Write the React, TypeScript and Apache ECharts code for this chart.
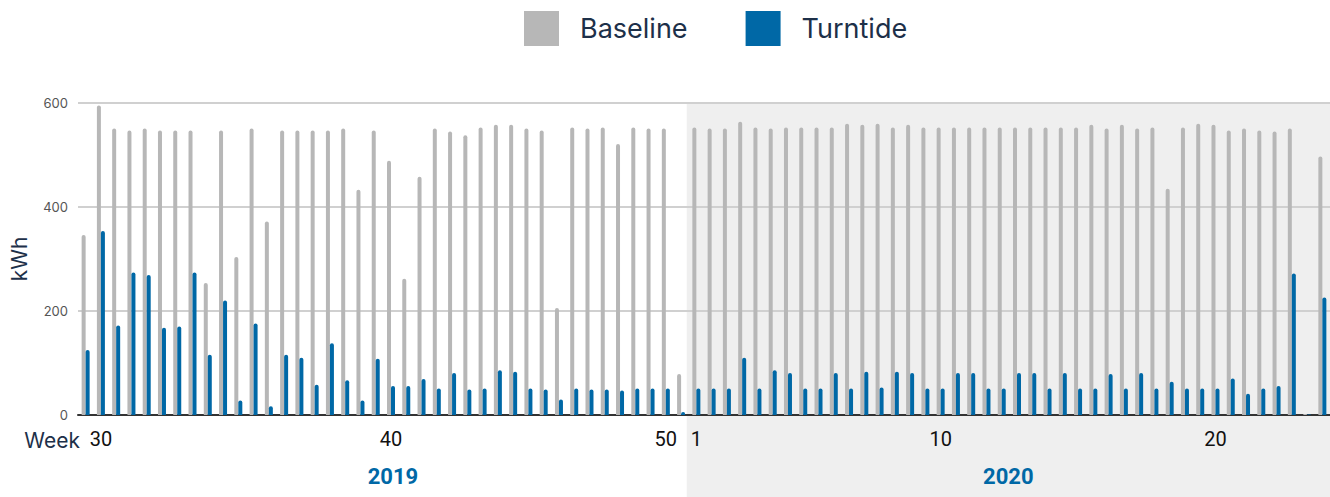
import React, { useEffect, useRef } from "react";
import * as echarts from "echarts";

const baseline = [
  346, 595, 551, 547, 551, 547, 547, 547, 254, 547,
  304, 551, 372, 547, 547, 547, 547, 551, 433, 547,
  489, 262, 458, 551, 545, 538, 553, 558, 558, 551,
  547, 206, 553, 551, 553, 521, 553, 551, 551, 79,
  553, 551, 551, 564, 553, 551, 553, 553, 553, 553,
  560, 558, 560, 553, 558, 553, 553, 553, 553, 553,
  553, 553, 553, 553, 553, 553, 558, 551, 558, 551,
  553, 435, 553, 560, 558, 547, 551, 547, 545, 551,
  2, 497,
];

const turntide = [
  125, 354, 172, 274, 269, 168, 170, 274, 116, 220,
  28, 176, 17, 116, 110, 58, 138, 67, 28, 108,
  56, 56, 69, 51, 81, 49, 51, 86, 83, 51,
  49, 30, 51, 49, 49, 47, 51, 51, 51, 6,
  51, 51, 51, 110, 51, 86, 81, 51, 51, 81,
  51, 83, 53, 83, 81, 51, 51, 81, 81, 51,
  51, 81, 81, 51, 81, 51, 51, 79, 51, 81,
  51, 64, 51, 51, 51, 70, 41, 51, 56, 272,
  1, 226,
];

// Index of each period where a week tick label is shown
const tickIndex = [1, 20, 38, 40, 56, 74];
const tickLabels = ["30", "40", "50", "1", "10", "20"];

const years = ["2019", "2020"];
const firstIndexOf2020 = 40;

const seriesNames = ["Baseline", "Turntide"];

const categories = baseline.map((_, i) => String(i));

const GRAY = "#b7b7b7";
const BLUE = "#0068a6";
const NAVY = "#1d3049";
const FONT = "Inter, Roboto, sans-serif";

export default function App() {
  const ref = useRef<HTMLDivElement>(null);

  useEffect(() => {
    document.body.style.margin = "0";
    if (!ref.current) return;
    const chart = echarts.init(ref.current, null, { renderer: "svg" });
    chart.setOption({
      animation: false,
      backgroundColor: "#ffffff",
      legend: {
        top: 6,
        left: 519,
        itemWidth: 35,
        itemHeight: 35,
        itemGap: 58,
        icon: "rect",
        textStyle: { fontSize: 27, color: NAVY, fontFamily: FONT, padding: [0, 0, 0, 16] },
        data: seriesNames,
      },
      grid: { left: 78, right: 0, top: 103, bottom: 82, containLabel: false },
      xAxis: {
        type: "category",
        data: categories,
        axisLine: { show: true, lineStyle: { color: "#333", width: 2 } },
        axisTick: { show: false },
        axisLabel: {
          interval: (index: number) => tickIndex.includes(index),
          formatter: (_v: string, index: number) => {
            const k = tickIndex.indexOf(index);
            return k >= 0 ? tickLabels[k] : "";
          },
          fontSize: 20,
          color: "#111",
          fontFamily: "Roboto, sans-serif",
          margin: 14,
        },
        splitLine: { show: false },
      },
      yAxis: {
        type: "value",
        min: 0,
        max: 600,
        interval: 200,
        name: "kWh",
        nameLocation: "middle",
        nameGap: 48,
        nameTextStyle: { fontSize: 21, color: NAVY, fontFamily: FONT },
        axisLine: { show: false },
        axisTick: { show: false },
        axisLabel: { fontSize: 13, color: "#555", fontFamily: FONT, margin: 10 },
        splitLine: { lineStyle: { color: "#d0d0d0", width: 2 } },
      },
      series: [
        {
          name: seriesNames[0],
          type: "bar",
          data: baseline,
          barWidth: 4,
          barGap: "0%",
          itemStyle: { color: GRAY, borderRadius: [2, 2, 0, 0] },
          z: 3,
        },
        {
          name: seriesNames[1],
          type: "bar",
          data: turntide,
          barWidth: 4,
          itemStyle: { color: BLUE, borderRadius: [2, 2, 0, 0] },
          z: 3,
        },
      ],
    });

    const p0 = chart.convertToPixel({ xAxisIndex: 0 }, firstIndexOf2020 - 1) as number;
    const p1 = chart.convertToPixel({ xAxisIndex: 0 }, firstIndexOf2020) as number;
    const boundary = (p0 + p1) / 2 - 2;
    const w = chart.getWidth();
    const h = chart.getHeight();
    const top = chart.convertToPixel({ yAxisIndex: 0 }, 600) as number;

    chart.setOption({
      graphic: [
        {
          type: "rect",
          z: -100,
          silent: true,
          shape: { x: boundary, y: top, width: w - boundary, height: h - top },
          style: { fill: "#efefef" },
        },
        {
          type: "text",
          x: 80,
          y: 440,
          style: {
            text: "Week",
            fontSize: 21,
            fill: NAVY,
            fontFamily: FONT,
            align: "right",
            verticalAlign: "middle",
          },
        },
        {
          type: "text",
          x: 393,
          y: 476,
          style: {
            text: years[0],
            fontSize: 22,
            fontWeight: "bold",
            fill: BLUE,
            fontFamily: "Roboto, sans-serif",
            align: "center",
            verticalAlign: "middle",
          },
        },
        {
          type: "text",
          x: (boundary + w) / 2,
          y: 476,
          style: {
            text: years[1],
            fontSize: 22,
            fontWeight: "bold",
            fill: BLUE,
            fontFamily: "Roboto, sans-serif",
            align: "center",
            verticalAlign: "middle",
          },
        },
      ],
    });

    return () => chart.dispose();
  }, []);

  return <div ref={ref} style={{ width: 1330, height: 497 }} />;
}
